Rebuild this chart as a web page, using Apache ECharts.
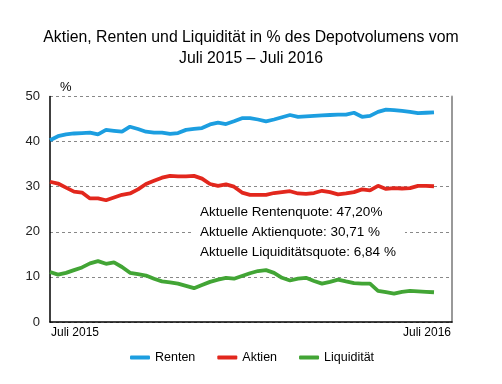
<!DOCTYPE html>
<html>
<head>
<meta charset="utf-8">
<script src="https://cdn.jsdelivr.net/npm/echarts@6/dist/echarts.min.js"></script>
<style>html,body{margin:0;padding:0;background:#fff}#c{width:502px;height:384px}</style>
</head>
<body>
<div id="c"></div>
<script>
var titleLines = ['Aktien, Renten und Liquidität in % des Depotvolumens vom', 'Juli 2015 – Juli 2016'];
var xTickLabels = ['Juli 2015', 'Juli 2016'];
var yTicks = [0, 10, 20, 30, 40, 50];
var seriesNames = ['Renten', 'Aktien', 'Liquidität'];
var renten = [40.3,41.2,41.6,41.8,41.9,42.0,41.6,42.6,42.4,42.2,43.3,42.8,42.2,42.0,42.0,41.7,41.9,42.6,42.8,43.0,43.8,44.2,43.9,44.5,45.2,45.2,44.9,44.5,44.9,45.4,45.9,45.5,45.6,45.7,45.8,45.9,46.0,46.0,46.4,45.5,45.7,46.6,47.1,47.0,46.8,46.6,46.3,46.4,46.5];
var aktien = [31.1,30.7,29.8,28.9,28.7,27.4,27.4,27.0,27.6,28.2,28.5,29.4,30.6,31.3,32.0,32.4,32.3,32.3,32.4,31.8,30.6,30.2,30.5,30.0,28.7,28.2,28.2,28.2,28.6,28.8,29.0,28.5,28.4,28.6,29.1,28.8,28.3,28.5,28.8,29.4,29.2,30.2,29.5,29.7,29.6,29.7,30.2,30.2,30.1];
var liquiditaet = [11.1,10.5,10.9,11.5,12.1,13.0,13.5,12.9,13.2,12.2,10.9,10.6,10.3,9.6,9.0,8.8,8.5,8.0,7.5,8.2,8.9,9.4,9.8,9.6,10.2,10.8,11.3,11.5,10.9,9.8,9.2,9.6,9.8,9.1,8.5,8.9,9.4,9.0,8.6,8.5,8.5,6.9,6.6,6.3,6.7,6.9,6.8,6.7,6.6];
var annotation = ['Aktuelle Rentenquote: 47,20%', 'Aktuelle Aktienquote: 30,71 %', 'Aktuelle Liquiditätsquote: 6,84 %'];
var colors = ['#1c9ee0', '#e2271d', '#42a535'];

function pairs(arr){ return arr.map(function(v,i){ return [i, v]; }); }
var FONT = 'Liberation Sans, Arial, sans-serif';
var chart = echarts.init(document.getElementById('c'), null, {renderer:'canvas'});
var allData = [renten, aktien, liquiditaet];
chart.setOption({
  animation: false,
  textStyle: {fontFamily: FONT},
  title: {
    text: titleLines.join('\n'), left: 'center', top: 22,
    textStyle: {fontFamily: FONT, fontSize: 15.8, fontWeight: 'normal', color: '#000', lineHeight: 21}
  },
  grid: {left: 50, right: 50, top: 96.5, bottom: 62, containLabel: false},
  xAxis: {
    type: 'value', min: 0, max: 50.25,
    axisLine: {show: true, lineStyle: {color: '#000', width: 1.5}},
    axisTick: {show: false}, axisLabel: {show: false}, splitLine: {show: false}
  },
  yAxis: [{
    type: 'value', min: yTicks[0], max: yTicks[yTicks.length-1], interval: 10,
    name: '%', nameLocation: 'end', nameGap: 3,
    nameTextStyle: {fontFamily: FONT, fontSize: 13, color: '#000', align: 'left', padding: [0,0,0,10]},
    axisLine: {show: true, lineStyle: {color: '#000', width: 1.5}},
    axisTick: {show: false},
    axisLabel: {fontFamily: FONT, fontSize: 13, color: '#222', margin: 10},
    splitLine: {show: true, lineStyle: {color: '#888', type: [3,3], width: 1}}
  }, {
    type: 'value', min: 0, max: 50, position: 'right',
    axisLine: {show: true, lineStyle: {color: '#999', width: 2}},
    axisTick: {show: false}, axisLabel: {show: false}, splitLine: {show: false}
  }],
  legend: {
    bottom: 15, left: 125, itemGap: 22, itemWidth: 20, itemHeight: 4,
    icon: 'roundRect',
    textStyle: {fontFamily: FONT, fontSize: 12.5, color: '#000'},
    data: seriesNames
  },
  series: seriesNames.map(function(n, k){
    return {
      name: n, type: 'line', data: pairs(allData[k]), showSymbol: false, symbol: 'none',
      lineStyle: {color: colors[k], width: 3.8}, itemStyle: {color: colors[k]}, z: 3
    };
  }),
  graphic: [
    {type: 'rect', left: 193, top: 200, shape: {width: 212, height: 62}, style: {fill: '#fff'}, z: 2},
    {type: 'text', left: 200, top: 202, z: 5, style: {text: annotation.join('\n'), font: '13.5px ' + FONT, fill: '#000', lineHeight: 20}},
    {type: 'text', left: 51, top: 327, style: {text: xTickLabels[0], font: '12px ' + FONT, fill: '#000'}},
    {type: 'text', right: 51, top: 327, style: {text: xTickLabels[1], font: '12px ' + FONT, fill: '#000'}}
  ]
});
</script>
</body>
</html>
